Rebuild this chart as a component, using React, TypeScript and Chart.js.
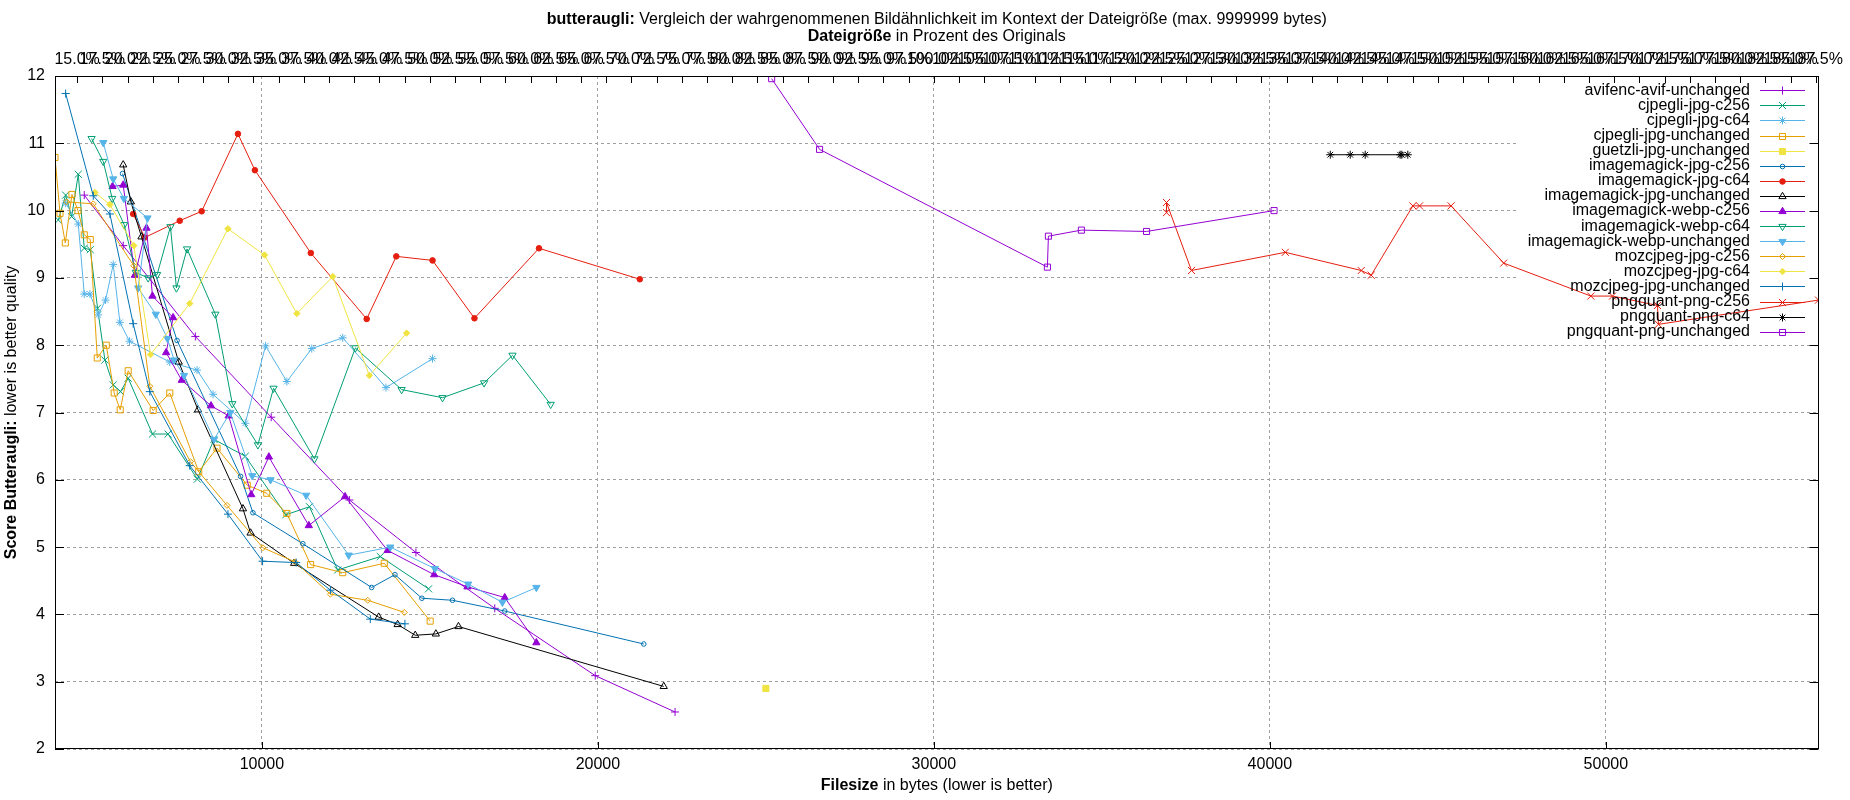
import React, { useEffect, useRef } from 'react';
import { Chart, registerables } from 'chart.js';
import { drawPoint } from 'chart.js/helpers';

Chart.register(...registerables);

// ---------- data: [filesize in bytes, butteraugli score] ----------
const avifencAvifUnchanged = [
  [4713, 10.23], [5872, 9.48], [8020, 8.13], [10277, 6.93], [12604, 5.70],
  [14584, 4.92], [16931, 4.09], [19921, 3.09], [22297, 2.55],
];
const cjpegliJpgC256 = [
  [3941, 9.86], [4159, 10.23], [4337, 9.91], [4535, 10.54], [4713, 9.44], [4892, 9.42],
  [5109, 8.55], [5327, 7.78], [5575, 7.41], [5792, 7.31], [6020, 7.51], [6743, 6.68],
  [7208, 6.68], [8079, 6.01], [8574, 6.60], [9505, 6.35], [10713, 5.48], [11416, 5.60],
  [12257, 4.66], [13524, 4.86], [14960, 4.38],
];
const cjpegliJpgC64 = [
  [4159, 10.11], [4535, 9.80], [4713, 8.76], [4882, 8.76], [5129, 8.45], [5347, 8.67],
  [5575, 9.20], [5773, 8.34], [6060, 8.06], [7258, 7.75], [8070, 7.63], [8545, 7.27],
  [9505, 6.84], [10109, 7.99], [10743, 7.46], [11485, 7.95], [12406, 8.11], [13693, 7.37],
  [15079, 7.80],
];
const cjpegliJpgUnchanged = [
  [3842, 10.79], [3991, 9.96], [4149, 9.52], [4347, 10.24], [4525, 10.0], [4713, 9.64],
  [4892, 9.57], [5100, 7.81], [5367, 8.0], [5604, 7.29], [5783, 7.04], [6020, 7.62],
  [6763, 7.03], [7258, 7.29], [8119, 6.12], [8664, 6.47], [9564, 5.92], [10144, 5.80],
  [10743, 5.50], [11450, 4.74], [12406, 4.62], [13643, 4.76], [15009, 3.90],
];
const guetzliJpgUnchanged = [[25000, 2.90]];
const imagemagickJpgC256 = [
  [5852, 10.55], [7475, 8.07], [9366, 6.05], [9733, 5.51], [11218, 5.05], [13267, 4.40],
  [13960, 4.59], [14762, 4.24], [15673, 4.21], [17228, 4.05], [21366, 3.56],
];
const imagemagickJpgC64 = [
  [6169, 9.95], [6515, 9.60], [7555, 9.85], [8208, 9.99], [9287, 11.14], [9792, 10.60],
  [11455, 9.37], [13119, 8.39], [14000, 9.32], [15079, 9.26], [16326, 8.40], [18247, 9.44],
  [21248, 8.98],
];
const imagemagickJpgUnchanged = [
  [5872, 10.68], [6100, 10.13], [6416, 9.61], [7525, 7.75], [8099, 7.04], [9436, 5.57],
  [9663, 5.21], [10960, 4.76], [13475, 3.96], [14040, 3.85], [14564, 3.69], [15178, 3.71],
  [15851, 3.82], [21960, 2.93],
];
const imagemagickWebpC256 = [
  [5555, 10.36], [5872, 10.38], [6218, 9.04], [6565, 9.74], [6743, 8.73], [7357, 8.41],
  [7149, 7.89], [7614, 7.48], [8485, 7.10], [9010, 6.95], [9683, 5.78], [10208, 6.34],
  [11396, 5.32], [12475, 5.75], [13742, 4.95], [15128, 4.59], [16118, 4.41], [17228, 4.25],
  [18169, 3.58],
];
const imagemagickWebpC64 = [
  [4931, 11.07], [5278, 10.73], [5545, 10.18], [5901, 9.79], [6248, 9.08], [6614, 9.0],
  [6882, 9.05], [7278, 9.76], [7456, 8.85], [7772, 9.43], [8614, 8.46], [9119, 7.13],
  [9881, 6.52], [10347, 7.36], [11564, 6.31], [12782, 7.96], [14158, 7.34], [15376, 7.22],
  [16613, 7.44], [17459, 7.85], [18594, 7.12],
];
const imagemagickWebpUnchanged = [
  [5278, 11.01], [5575, 10.47], [5891, 10.18], [6595, 9.89], [6317, 8.85], [6842, 8.46],
  [7188, 8.10], [7386, 7.78], [7683, 7.55], [8574, 6.60], [9060, 7.0], [9713, 6.06],
  [10257, 6.0], [11317, 5.77], [12584, 4.88], [13821, 5.0], [15148, 4.68], [16138, 4.45],
  [17159, 4.18], [18169, 4.40],
];
const mozcjpegJpgC256 = [
  [4190, 10.13], [4981, 10.10], [6188, 9.18], [6664, 7.39], [7872, 6.27], [8961, 5.62],
  [10030, 4.99], [10990, 4.78], [12040, 4.30], [13148, 4.21], [14237, 4.03],
];
const mozcjpegJpgC64 = [
  [5030, 10.27], [5476, 10.09], [6188, 9.48], [6684, 7.86], [7852, 8.62], [8990, 9.73],
  [10079, 9.34], [11040, 8.47], [12109, 9.02], [13198, 7.55], [14307, 8.18],
];
const mozcjpegJpgUnchanged = [
  [4159, 11.74], [4981, 10.22], [5476, 9.95], [6169, 8.32], [6664, 7.31], [7852, 6.21],
  [8990, 5.49], [10020, 4.79], [11020, 4.77], [12040, 4.36], [13227, 3.93], [14257, 3.86],
];
const pngquantPngC256 = [
  [36924, 9.97], [36924, 10.12], [37667, 9.11], [40460, 9.38], [42720, 9.11], [43016, 9.04],
  [44256, 10.07], [44455, 10.07], [45394, 10.07], [46960, 9.22], [49554, 8.73], [50199, 8.73],
  [51537, 8.59], [51566, 8.31], [56330, 8.67],
];
const pngquantPngC64 = [
  [41798, 10.83], [42392, 10.83], [42838, 10.83], [43878, 10.83], [43928, 10.83], [44106, 10.83],
];
const pngquantPngUnchanged = [
  [25172, 11.96], [26598, 10.91], [33379, 9.16], [33409, 9.62], [34390, 9.71], [36330, 9.69],
  [40125, 10.0],
];

const SERIES_NAMES = [
  'avifenc-avif-unchanged', 'cjpegli-jpg-c256', 'cjpegli-jpg-c64', 'cjpegli-jpg-unchanged',
  'guetzli-jpg-unchanged', 'imagemagick-jpg-c256', 'imagemagick-jpg-c64',
  'imagemagick-jpg-unchanged', 'imagemagick-webp-c256', 'imagemagick-webp-c64',
  'imagemagick-webp-unchanged', 'mozcjpeg-jpg-c256', 'mozcjpeg-jpg-c64',
  'mozcjpeg-jpg-unchanged', 'pngquant-png-c256', 'pngquant-png-c64', 'pngquant-png-unchanged',
];
const SERIES_DATA = [
  avifencAvifUnchanged, cjpegliJpgC256, cjpegliJpgC64, cjpegliJpgUnchanged, guetzliJpgUnchanged,
  imagemagickJpgC256, imagemagickJpgC64, imagemagickJpgUnchanged, imagemagickWebpC256,
  imagemagickWebpC64, imagemagickWebpUnchanged, mozcjpegJpgC256, mozcjpegJpgC64,
  mozcjpegJpgUnchanged, pngquantPngC256, pngquantPngC64, pngquantPngUnchanged,
];

const ORIGINAL_BYTES = 30000;
const Y_MIN = 2;
const Y_MAX = 12;
const Y_STEP = 1;
const X_STEP = 10000;
const X2_STEP = 2.5;

const TITLE = [{ t: 'butteraugli:', b: true }, { t: ' Vergleich der wahrgenommenen Bildähnlichkeit im Kontext der Dateigröße (max. 9999999 bytes)', b: false }];
const X2_TITLE = [{ t: 'Dateigröße', b: true }, { t: ' in Prozent des Originals', b: false }];
const X_TITLE = [{ t: 'Filesize', b: true }, { t: ' in bytes (lower is better)', b: false }];
const Y_TITLE = [{ t: 'Score Butteraugli:', b: true }, { t: ' lower is better quality', b: false }];

// ---------- styles (gnuplot defaults) ----------
const FONT = '"Liberation Sans", Arial, Helvetica, sans-serif';
const GP_COLORS = ['#9400d3', '#009e73', '#56b4e9', '#e69f00', '#f0e442', '#0072b2', '#e51e10', '#000000'];
const GP_MARKERS = [
  { style: 'cross', filled: false, radius: 4, rotation: 0 },
  { style: 'crossRot', filled: false, radius: 5, rotation: 0 },
  { style: 'star', filled: false, radius: 4, rotation: 0 },
  { style: 'rect', filled: false, radius: 4.3, rotation: 0 },
  { style: 'rect', filled: true, radius: 4.3, rotation: 0 },
  { style: 'circle', filled: false, radius: 2.3, rotation: 0 },
  { style: 'circle', filled: true, radius: 2.8, rotation: 0 },
  { style: 'triangle', filled: false, radius: 4.2, rotation: 0 },
  { style: 'triangle', filled: true, radius: 4.2, rotation: 0 },
  { style: 'triangle', filled: false, radius: 4.2, rotation: 180 },
  { style: 'triangle', filled: true, radius: 4.2, rotation: 180 },
  { style: 'rectRot', filled: false, radius: 3, rotation: 0 },
  { style: 'rectRot', filled: true, radius: 3.2, rotation: 0 },
];

const LAYOUT = {
  plotLeft: 55, plotTop: 76, bottomAxisH: 51, rightPad: 27,
  legendBox: { x: 1517, y: 77, bottom: 338 },
  legendTextRight: 1750, legendLineX1: 1760, legendLineX2: 1805, legendFirstY: 90.3, legendRowH: 15.09,
  titleY: 20, x2TitleY: 37, xTitleY: 786, yTitleX: 12,
};

const styleOf = (i: number) => ({ color: GP_COLORS[i % GP_COLORS.length], marker: GP_MARKERS[i % GP_MARKERS.length] });

const allX = SERIES_DATA.flat().map((p) => p[0]);
const X_MIN = Math.min(...allX);
const X_MAX = Math.max(...allX);
const X2_MIN = (X_MIN / ORIGINAL_BYTES) * 100;
const X2_MAX = (X_MAX / ORIGINAL_BYTES) * 100;

function drawMixed(ctx: CanvasRenderingContext2D, parts: { t: string; b: boolean }[], cx: number, cy: number) {
  const widths = parts.map((p) => {
    ctx.font = `${p.b ? 'bold ' : ''}16px ${FONT}`;
    return ctx.measureText(p.t).width;
  });
  const total = widths.reduce((a, b) => a + b, 0);
  let x = cx - total / 2;
  ctx.textAlign = 'left';
  ctx.textBaseline = 'middle';
  ctx.fillStyle = '#000';
  parts.forEach((p, i) => {
    ctx.font = `${p.b ? 'bold ' : ''}16px ${FONT}`;
    ctx.fillText(p.t, x, cy);
    x += widths[i];
  });
}

// tick values on multiples of the step inside [lo, hi]
const stepTicks = (lo: number, hi: number, step: number) => (scale: any) => {
  const out: { value: number }[] = [];
  const start = Math.ceil(lo / step - 1e-9);
  const end = Math.floor(hi / step + 1e-9);
  for (let k = start; k <= end; k++) out.push({ value: Math.round(k * step * 1000) / 1000 });
  scale.ticks = out;
};

const gnuplotDecor = {
  id: 'gnuplotDecor',
  beforeDatasetsDraw(chart: any) {
    const { ctx, chartArea } = chart;
    const lb = LAYOUT.legendBox;
    ctx.save();
    ctx.fillStyle = '#ffffff';
    ctx.fillRect(lb.x, lb.y, chartArea.right - 1 - lb.x, lb.bottom - lb.y);
    ctx.restore();
  },
  afterDatasetsDraw(chart: any) {
    const { ctx, chartArea, scales } = chart;
    const { left, right, top, bottom } = chartArea;
    ctx.save();
    ctx.strokeStyle = '#000';
    ctx.lineWidth = 1;
    ctx.setLineDash([]);
    ctx.strokeRect(Math.round(left) + 0.5, Math.round(top) + 0.5, Math.round(right - left) - 1, Math.round(bottom - top) - 1);
    ctx.beginPath();
    scales.y.ticks.forEach((t: any) => {
      const py = Math.round(scales.y.getPixelForValue(t.value)) + 0.5;
      ctx.moveTo(left, py); ctx.lineTo(left + 9, py);
      ctx.moveTo(right, py); ctx.lineTo(right - 9, py);
    });
    scales.x.ticks.forEach((t: any) => {
      const px = Math.round(scales.x.getPixelForValue(t.value)) + 0.5;
      ctx.moveTo(px, bottom); ctx.lineTo(px, bottom - 7);
    });
    scales.x2.ticks.forEach((t: any) => {
      const px = Math.round(scales.x2.getPixelForValue(t.value)) + 0.5;
      ctx.moveTo(px, top); ctx.lineTo(px, top + 7);
    });
    ctx.stroke();
    SERIES_NAMES.forEach((name, i) => {
      const { color, marker } = styleOf(i);
      const y = LAYOUT.legendFirstY + i * LAYOUT.legendRowH;
      ctx.font = `16px ${FONT}`;
      ctx.fillStyle = '#000';
      ctx.textAlign = 'right';
      ctx.textBaseline = 'middle';
      ctx.fillText(name, LAYOUT.legendTextRight, y);
      ctx.strokeStyle = color;
      ctx.lineWidth = 1;
      ctx.beginPath();
      ctx.moveTo(LAYOUT.legendLineX1, Math.round(y) + 0.5);
      ctx.lineTo(LAYOUT.legendLineX2, Math.round(y) + 0.5);
      ctx.stroke();
      ctx.fillStyle = marker.filled ? color : 'rgba(0,0,0,0)';
      drawPoint(ctx, { pointStyle: marker.style, rotation: marker.rotation, radius: marker.radius, borderWidth: 1 } as any,
        (LAYOUT.legendLineX1 + LAYOUT.legendLineX2) / 2, Math.round(y) + 0.5);
    });
    ctx.restore();
  },
  afterDraw(chart: any) {
    const { ctx, chartArea } = chart;
    const cx = (chartArea.left + chartArea.right) / 2;
    const cy = (chartArea.top + chartArea.bottom) / 2;
    ctx.save();
    drawMixed(ctx, TITLE, cx, LAYOUT.titleY);
    drawMixed(ctx, X2_TITLE, cx, LAYOUT.x2TitleY);
    drawMixed(ctx, X_TITLE, cx, LAYOUT.xTitleY);
    ctx.translate(LAYOUT.yTitleX, cy);
    ctx.rotate(-Math.PI / 2);
    drawMixed(ctx, Y_TITLE, 0, 0);
    ctx.restore();
  },
};

export default function App() {
  const canvasRef = useRef<HTMLCanvasElement | null>(null);

  useEffect(() => {
    if (!canvasRef.current) return;
    Chart.defaults.font.family = FONT;
    Chart.defaults.font.size = 16;
    Chart.defaults.color = '#000';

    const datasets = SERIES_NAMES.map((name, i) => {
      const { color, marker } = styleOf(i);
      return {
        label: name,
        data: SERIES_DATA[i].map(([x, y]) => ({ x, y })),
        borderColor: color,
        backgroundColor: color,
        borderWidth: 1,
        pointStyle: marker.style,
        pointRotation: marker.rotation,
        pointRadius: marker.radius,
        pointHoverRadius: marker.radius,
        pointBorderWidth: 1,
        pointBorderColor: color,
        pointBackgroundColor: marker.filled ? color : 'rgba(0,0,0,0)',
        tension: 0,
        fill: false,
        showLine: true,
        order: SERIES_NAMES.length - i,
        xAxisID: 'x',
        yAxisID: 'y',
      };
    });

    const chart = new Chart(canvasRef.current, {
      type: 'line',
      data: { datasets: datasets as any },
      plugins: [gnuplotDecor as any],
      options: {
        responsive: false,
        animation: false,
        events: [],
        layout: { padding: { left: 0, top: 0, right: LAYOUT.rightPad, bottom: 0 } },
        plugins: { legend: { display: false }, title: { display: false }, tooltip: { enabled: false } },
        scales: {
          x: {
            type: 'linear',
            position: 'bottom',
            min: X_MIN,
            max: X_MAX,
            afterFit: (s: any) => { s.height = LAYOUT.bottomAxisH; },
            afterBuildTicks: stepTicks(X_MIN, X_MAX, X_STEP),
            grid: { color: '#a0a0a0', lineWidth: 1, drawTicks: false },
            border: { display: false, dash: [3, 3] },
            ticks: {
              autoSkip: false, maxRotation: 0, minRotation: 0,
              padding: 6, color: '#000', font: { size: 16, family: FONT },
              callback: (v: any) => String(Math.round(Number(v))),
            },
          },
          x2: {
            type: 'linear',
            position: 'top',
            min: X2_MIN,
            max: X2_MAX,
            afterFit: (s: any) => { s.height = LAYOUT.plotTop; },
            afterBuildTicks: stepTicks(X2_MIN, X2_MAX, X2_STEP),
            grid: { display: false, drawTicks: false },
            border: { display: false },
            ticks: {
              autoSkip: false, maxRotation: 0, minRotation: 0,
              padding: 7, color: '#000', font: { size: 16, family: FONT },
              callback: (v: any) => Number(v).toFixed(1) + '%',
            },
          },
          y: {
            type: 'linear',
            position: 'left',
            min: Y_MIN,
            max: Y_MAX,
            afterFit: (s: any) => { s.width = LAYOUT.plotLeft; },
            grid: { color: '#a0a0a0', lineWidth: 1, drawTicks: false },
            border: { display: false, dash: [3, 3] },
            ticks: {
              stepSize: Y_STEP, autoSkip: false, padding: 10, color: '#000', font: { size: 16, family: FONT },
              callback: (v: any) => String(v),
            },
          },
        },
      } as any,
    });
    return () => chart.destroy();
  }, []);

  return (
    <div style={{ position: 'fixed', left: 0, top: 0, width: 1850, height: 800, background: '#fff' }}>
      <canvas ref={canvasRef} width={1850} height={800} style={{ display: 'block', width: 1850, height: 800 }} />
    </div>
  );
}
